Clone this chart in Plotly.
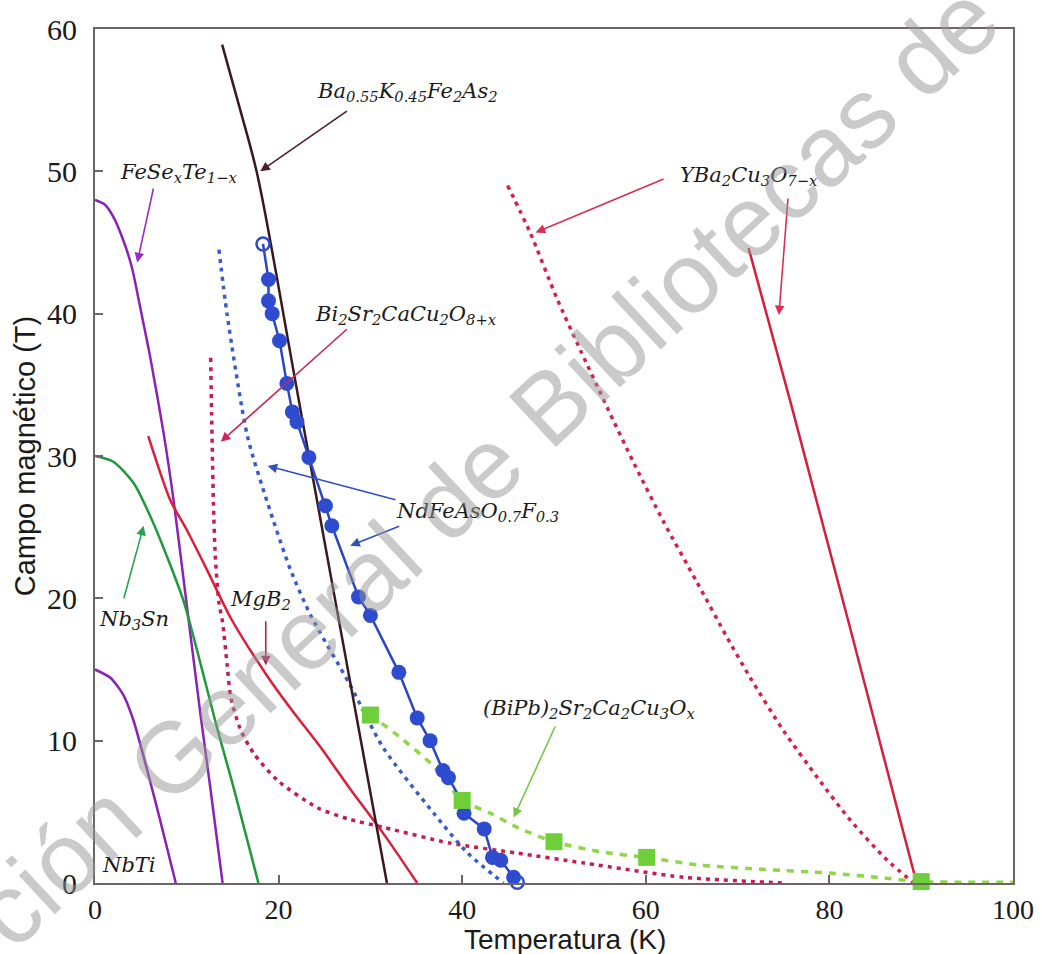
import plotly.graph_objects as go

# ---------------- data ----------------
nbti_T = [0, 1.7, 3.1, 4.2, 5.7, 7.1, 8.8]
nbti_H = [15.0, 14.4, 13.2, 11.4, 7.9, 4.4, 0.0]

fesete_T = [0, 1.0, 2.0, 3.0, 4.0, 5.0, 6.0, 7.5, 8.6, 10.0, 11.5, 12.6, 13.9]
fesete_H = [48.0, 47.7, 46.8, 45.3, 43.3, 40.2, 37.0, 31.5, 26.7, 19.5, 11.8, 6.5, 0.0]

nb3sn_T = [0, 2.0, 4.2, 6.0, 7.8, 9.7, 13.3, 15.1, 17.8]
nb3sn_H = [30.0, 29.6, 28.1, 25.8, 23.0, 19.7, 10.9, 6.7, 0.0]

mgb2_T = [5.8, 8.2, 10.0, 12.2, 14.8, 18.7, 21.5, 24.5, 27.8, 31.5, 35.1]
mgb2_H = [31.4, 26.9, 24.8, 22.0, 18.6, 14.6, 12.1, 9.6, 6.6, 3.4, 0.0]

bi2212_T = [12.6, 12.7, 12.9, 13.1, 13.5, 13.9, 14.4, 14.8, 15.9, 17.3, 19.9, 24.2, 27.6, 31.5, 38.7, 46.0, 53.3, 64.2, 75.0]
bi2212_H = [36.9, 33.0, 26.7, 23.0, 19.7, 18.3, 15.3, 13.0, 10.7, 9.1, 7.2, 5.3, 4.5, 3.9, 2.8, 2.1, 1.4, 0.4, 0.0]

ba122_T = [13.85, 15.7, 17.6, 19.8, 21.7, 23.5, 27.8, 31.8]
ba122_H = [58.9, 54.6, 50.0, 42.6, 35.7, 29.3, 14.1, 0.0]

nd_dot_T = [13.5, 14.4, 16.6, 18.8, 21.3, 23.5, 27.8, 31.4, 36.9, 40.6, 44.5]
nd_dot_H = [44.5, 39.9, 31.4, 26.7, 22.0, 18.8, 13.9, 9.5, 4.9, 2.1, 0.0]

nd_T = [18.3, 18.9, 18.9, 19.3, 20.1, 20.9, 21.5, 22.0, 23.3, 25.1, 25.8, 28.7, 30.0,
        33.1, 35.1, 36.5, 37.9, 38.5, 39.9, 40.2, 42.4, 43.3, 44.2, 45.6, 46.0]
nd_H = [44.9, 42.4, 40.9, 40.0, 38.1, 35.1, 33.1, 32.4, 29.9, 26.5, 25.1, 20.1, 18.8,
        14.8, 11.6, 10.0, 7.9, 7.4, 5.8, 4.9, 3.8, 1.8, 1.6, 0.4, 0.05]

ybco_dot_T = [44.95, 47.4, 50.3, 52.9, 55.8, 58.7, 62.0, 65.6, 68.9, 71.4, 75.0, 78.7, 82.3, 86.3, 89.2]
ybco_dot_H = [49.0, 45.7, 41.1, 37.4, 33.4, 29.5, 25.3, 21.1, 17.2, 14.4, 10.7, 7.4, 4.4, 1.6, 0.0]

ybco_T = [71.2, 75.8, 82.1, 89.5]
ybco_H = [44.6, 33.7, 18.3, 0.0]

bipb_line_T = [30, 33.3, 36.9, 40, 43.1, 46, 50, 55, 60, 66, 73, 80, 86, 90, 95, 100]
bipb_line_H = [11.8, 10.2, 8.2, 5.8, 4.9, 3.9, 2.9, 2.2, 1.8, 1.25, 0.95, 0.7, 0.35, 0.1, 0.05, 0.05]
bipb_pts_T = [30, 40, 50, 60.1, 90]
bipb_pts_H = [11.8, 5.8, 2.9, 1.8, 0.1]

x_ticks = [0, 20, 40, 60, 80, 100]
y_ticks = [0, 10, 20, 30, 40, 50, 60]

# ---------------- figure ----------------
fig = go.Figure()

def line(x, y, color, width=2.5, dash=None, smooth=True, smoothing=0.7):
    fig.add_trace(go.Scatter(
        x=x, y=y, mode="lines",
        line=dict(color=color, width=width, dash=dash,
                  shape="spline" if smooth else "linear", smoothing=smoothing),
        hoverinfo="skip", showlegend=False))

# dotted / dashed lines
line(bi2212_T, bi2212_H, "#c41c55", 3.5, "4px,5px")
line(ybco_dot_T, ybco_dot_H, "#d6204a", 3.5, "4px,5px")
line(nd_dot_T, nd_dot_H, "#3a5cc8", 3.5, "4px,5px")
line(bipb_line_T, bipb_line_H, "#8fd648", 3.5, "7px,7px")

# solid lines
line(nbti_T, nbti_H, "#8a22b5", 2.5)
line(fesete_T, fesete_H, "#8a22b5", 2.5)
line(nb3sn_T, nb3sn_H, "#1e9a3c", 2.5)
line(mgb2_T, mgb2_H, "#dc1e3a", 2.5)
line(ybco_T, ybco_H, "#d61e3e", 2.5, smooth=False)
line(ba122_T, ba122_H, "#3a1820", 2.5, smoothing=1.0)

# NdFeAsO0.7F0.3 points
fig.add_trace(go.Scatter(
    x=nd_T, y=nd_H, mode="lines",
    line=dict(color="#2a46c2", width=2.5),
    hoverinfo="skip", showlegend=False))
fig.add_trace(go.Scatter(
    x=nd_T[1:-1], y=nd_H[1:-1], mode="markers",
    marker=dict(symbol="circle", size=15, color="#2d4ccf", line=dict(width=0)),
    hoverinfo="skip", showlegend=False))
fig.add_trace(go.Scatter(
    x=[nd_T[0], nd_T[-1]], y=[nd_H[0], nd_H[-1]], mode="markers",
    marker=dict(symbol="circle-open", size=13, color="#2d4ccf", line=dict(width=2.5)),
    hoverinfo="skip", showlegend=False, cliponaxis=False))

# (BiPb)2Sr2Ca2Cu3Ox squares
fig.add_trace(go.Scatter(
    x=bipb_pts_T, y=bipb_pts_H, mode="markers",
    marker=dict(symbol="square", size=17, color="#6fcf3a", line=dict(width=0)),
    hoverinfo="skip", showlegend=False, cliponaxis=False))

# ---------------- labels and arrows ----------------
lab_font = dict(family="DejaVu Serif", size=21, color="#1a1a1a")

labels = [
    ("<i>Ba<sub>0.55</sub>K<sub>0.45</sub>Fe<sub>2</sub>As<sub>2</sub></i>", 34.0, 55.6),
    ("<i>FeSe<sub>x</sub>Te<sub>1−x</sub></i>", 9.1, 49.9),
    ("<i>YBa<sub>2</sub>Cu<sub>3</sub>O<sub>7−x</sub></i>", 71.2, 49.7),
    ("<i>Bi<sub>2</sub>Sr<sub>2</sub>CaCu<sub>2</sub>O<sub>8+x</sub></i>", 33.9, 39.9),
    ("<i>NdFeAsO<sub>0.7</sub>F<sub>0.3</sub></i>", 41.7, 26.1),
    ("<i>Nb<sub>3</sub>Sn</i>", 4.3, 18.5),
    ("<i>MgB<sub>2</sub></i>", 18.0, 19.9),
    ("<i>(BiPb)<sub>2</sub>Sr<sub>2</sub>Ca<sub>2</sub>Cu<sub>3</sub>O<sub>x</sub></i>", 53.8, 12.2),
    ("<i>NbTi</i>", 3.7, 1.25),
]
for txt, x, y in labels:
    fig.add_annotation(x=x, y=y, xref="x", yref="y", text=txt, showarrow=False,
                       xanchor="center", yanchor="middle",
                       font=lab_font, bgcolor="rgba(255,255,255,0.85)", borderpad=0)

arrows = [
    # tail (ax, ay) -> head (x, y)
    (27.6, 54.3, 18.0, 50.0, "#4a2030"),
    (6.4, 48.9, 4.6, 43.6, "#9a2ec4"),
    (62.1, 49.5, 48.0, 45.7, "#d8304e"),
    (75.5, 48.2, 74.5, 39.9, "#d8304e"),
    (27.6, 39.0, 13.7, 31.0, "#c8285a"),
    (32.9, 26.9, 18.8, 29.3, "#3050c0"),
    (33.3, 25.1, 27.8, 23.7, "#3050c0"),
    (3.1, 19.9, 5.3, 25.1, "#2aa050"),
    (18.6, 18.5, 18.6, 15.3, "#b01e5a"),
    (50.2, 11.1, 45.6, 4.6, "#72c844"),
]
for ax, ay, x, y, c in arrows:
    fig.add_annotation(x=x, y=y, ax=ax, ay=ay, xref="x", yref="y", axref="x", ayref="y",
                       text="", showarrow=True, arrowhead=2, arrowsize=1.2,
                       arrowwidth=1.6, arrowcolor=c)

# axis titles
fig.add_annotation(text="Campo magnético (T)", xref="paper", yref="paper",
                   x=-0.076, y=0.5, xanchor="center", yanchor="middle",
                   textangle=-90, showarrow=False,
                   font=dict(family="Liberation Sans", size=29, color="#1a1a1a"))
fig.add_annotation(text="Temperatura (K)", xref="paper", yref="paper",
                   x=0.512, y=-0.066, xanchor="center", yanchor="middle", showarrow=False,
                   font=dict(family="Liberation Sans", size=28, color="#1a1a1a"))

# watermark
fig.add_annotation(text="ción General de Bibliotecas de", xref="paper", yref="paper",
                   x=0.425, y=0.49, xanchor="center", yanchor="middle",
                   textangle=-43, showarrow=False,
                   font=dict(family="Liberation Sans", size=100, color="rgba(150,150,150,0.5)"))

axis_common = dict(showline=True, linecolor="#6e6468", linewidth=2, mirror=True,
                   ticks="inside", ticklen=8, tickwidth=1.5, tickcolor="#6e6468",
                   showgrid=False, zeroline=False)

fig.update_xaxes(range=[0, 100], tickvals=x_ticks, ticklabelstandoff=0,
                 tickfont=dict(family="Liberation Serif", size=28, color="#1a1a1a"),
                 **axis_common)
fig.update_yaxes(range=[0, 60], tickvals=y_ticks, ticklabelstandoff=10,
                 tickfont=dict(family="Liberation Serif", size=30, color="#1a1a1a"),
                 **axis_common)

fig.update_layout(width=1050, height=954,
                  margin=dict(l=95, r=37, t=22, b=71),
                  plot_bgcolor="white", paper_bgcolor="white",
                  showlegend=False)

fig.write_html("out.html")
